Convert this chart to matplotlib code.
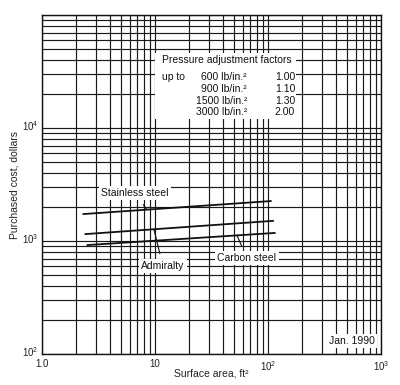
import matplotlib
matplotlib.use("Agg")
import matplotlib.pyplot as plt
import matplotlib.transforms as mtransforms
from matplotlib.patches import Rectangle
from matplotlib.ticker import FixedLocator, NullFormatter

plt.rcParams['font.family'] = ['Liberation Sans', 'DejaVu Sans']
plt.rcParams['mathtext.fontset'] = 'custom'
plt.rcParams['mathtext.rm'] = 'Liberation Sans'
plt.rcParams['mathtext.it'] = 'Liberation Sans'

# ---- data ----
series_names = ["Stainless steel", "Admiralty", "Carbon steel"]
stainless_x = [2.3, 108]
stainless_y = [1730, 2260]
admiralty_x = [2.4, 113]
admiralty_y = [1150, 1510]
carbon_x = [2.5, 117]
carbon_y = [920, 1180]

x_ticks = [1, 10, 100, 1000]
x_tick_labels = ["1.0", "10", r"$10^2$", r"$10^3$"]
y_ticks = [100, 1000, 10000, 100000]
y_tick_labels = [r"$10^2$", r"$10^3$", r"$10^4$", ""]

pressures = ["600 lb/in.²", "900 lb/in.²", "1500 lb/in.²", "3000 lb/in.²"]
factors = ["1.00", "1.10", "1.30", "2.00"]
table_title = "Pressure adjustment factors"
date_note = "Jan. 1990"

# ---- figure ----
fig = plt.figure(figsize=(4.0, 3.85), dpi=100)
ax = fig.add_axes([0.104, 0.0805, 0.8485, 0.8805])
ax.set_xscale('log')
ax.set_yscale('log')
ax.set_xlim(1, 1000)
ax.set_ylim(100, 100000)

minor_x = [m * 10 ** k for k in range(0, 3) for m in range(2, 10)]
minor_y = [m * 10 ** k for k in range(2, 5) for m in range(2, 10)]
ax.xaxis.set_major_locator(FixedLocator(x_ticks))
ax.yaxis.set_major_locator(FixedLocator(y_ticks))
ax.xaxis.set_minor_locator(FixedLocator(minor_x))
ax.yaxis.set_minor_locator(FixedLocator(minor_y))
ax.xaxis.set_minor_formatter(NullFormatter())
ax.yaxis.set_minor_formatter(NullFormatter())
ax.set_xticklabels(x_tick_labels)
ax.set_yticklabels(y_tick_labels)
ax.tick_params(which='both', length=0, labelsize=7, colors='#222222')
ax.tick_params(axis='x', pad=3.5)
ax.tick_params(axis='y', pad=2)
shift_up = mtransforms.ScaledTranslation(0, 3 / 100, fig.dpi_scale_trans)
for lab in ax.get_yticklabels():
    lab.set_transform(lab.get_transform() + shift_up)

ax.grid(True, which='both', color='#1a1a1a', lw=0.85)
ax.set_axisbelow(True)
for s in ax.spines.values():
    s.set_color('#111111')
    s.set_linewidth(1.0)

ax.set_xlabel("Surface area, ft²", fontsize=7.5, color='#222222')
ax.xaxis.set_label_coords(0.5, -0.044)
ax.set_ylabel("Purchased cost, dollars", fontsize=7.5, color='#222222')
ax.yaxis.set_label_coords(-0.064, 0.5)

# series lines
for xs, ys in [(stainless_x, stainless_y), (admiralty_x, admiralty_y), (carbon_x, carbon_y)]:
    ax.plot(xs, ys, color='#111111', lw=1.3, zorder=5, solid_capstyle='butt')

# annotations
box = dict(facecolor='white', edgecolor='none', pad=1.5)
ax.annotate(series_names[0], xy=(8.5, 1900), xytext=(6.7, 2660), fontsize=7.5,
            ha='center', va='center', color='#111111', bbox=box, zorder=6,
            arrowprops=dict(arrowstyle='-', color='#111111', lw=0.8, shrinkA=4, shrinkB=0))
ax.annotate(series_names[1], xy=(9.84, 1271), xytext=(11.8, 600), fontsize=7.5,
            ha='center', va='center', color='#111111', bbox=box, zorder=6,
            arrowprops=dict(arrowstyle='-', color='#111111', lw=0.8, shrinkA=4, shrinkB=0))
ax.annotate(series_names[2], xy=(53.3, 1122), xytext=(65.3, 708), fontsize=7.5,
            ha='center', va='center', color='#111111', bbox=box, zorder=6,
            arrowprops=dict(arrowstyle='-', color='#111111', lw=0.8, shrinkA=4, shrinkB=0))

# pressure adjustment table
ax.add_patch(Rectangle((0.334, 0.693), 0.416, 0.195, transform=ax.transAxes,
                       facecolor='white', edgecolor='none', zorder=3))
ax.text(0.355, 0.867, table_title, transform=ax.transAxes, fontsize=7.5,
        ha='left', va='center', color='#111111', zorder=4)
row_y = [0.817, 0.782, 0.746, 0.713]
ax.text(0.355, row_y[0], "up to", transform=ax.transAxes, fontsize=7.5,
        ha='left', va='center', color='#111111', zorder=4)
for yy, p, f in zip(row_y, pressures, factors):
    ax.text(0.605, yy, p, transform=ax.transAxes, fontsize=7.5,
            ha='right', va='center', color='#111111', zorder=4)
    ax.text(0.747, yy, f, transform=ax.transAxes, fontsize=7.5,
            ha='right', va='center', color='#111111', zorder=4)

# date note
ax.text(0.981, 0.038, date_note, transform=ax.transAxes, fontsize=7.5,
        ha='right', va='center', color='#111111', zorder=4,
        bbox=dict(facecolor='white', edgecolor='none', pad=1.5))

fig.savefig("out.png", dpi=100, facecolor='white')
